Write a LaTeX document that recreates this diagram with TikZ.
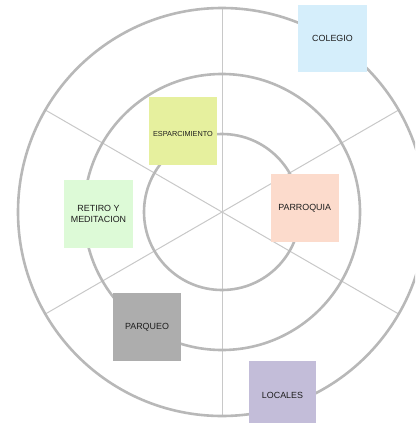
\documentclass[tikz,border=0pt]{standalone}
\usepackage{fontspec}
\setmainfont{Liberation Sans}
\usetikzlibrary{calc}
\definecolor{ringgray}{HTML}{B8B8B8}
\definecolor{spokegray}{HTML}{C8C8C8}
\definecolor{txt}{HTML}{1E1E1E}
\definecolor{cColegio}{HTML}{D5EEFB}
\definecolor{cEsparc}{HTML}{E6F09E}
\definecolor{cRetiro}{HTML}{DDFAD7}
\definecolor{cParroq}{HTML}{FCDBCC}
\definecolor{cParqueo}{HTML}{ADADAD}
\definecolor{cLocales}{HTML}{C3BDD9}
\tikzset{
  ring/.style={draw=ringgray, line width=2.6pt},
  spoke/.style={draw=spokegray, line width=1pt},
  zone/.style={rectangle, inner sep=0pt, minimum width=68pt, minimum height=68pt,
    text=txt, align=center, font=\fontsize{8.9}{10.7}\selectfont},
}
\begin{document}
\begin{tikzpicture}[x=1pt,y=-1pt]
\useasboundingbox (0,0) rectangle (415,423);
\clip (0,0) rectangle (415,423);
\coordinate (c) at (222,212);
% spokes
\coordinate (vt) at (222,8);
\coordinate (vb) at (222,416);
\coordinate (d1a) at ($(c)+(150:203)$);
\coordinate (d1b) at ($(c)+(-30:203)$);
\coordinate (d2a) at ($(c)+(30:203)$);
\coordinate (d2b) at ($(c)+(210:203)$);
\draw[spoke] (vt) -- (vb);
\draw[spoke] (d1a) -- (d1b);
\draw[spoke] (d2a) -- (d2b);
% rings
\draw[ring] (c) circle[radius=78];
\draw[ring] (c) circle[radius=138];
\draw[ring] (c) circle[radius=204];
% zones
\node[zone, fill=cColegio, minimum width=69pt, minimum height=67pt] (colegio) at (332.5,38.5) {COLEGIO};
\node[zone, fill=cEsparc, font=\fontsize{7.3}{9}\selectfont, text height=11.3pt, text depth=0pt] (esparc) at (183,131) {ESPARCIMIENTO};
\node[zone, fill=cRetiro, minimum width=69pt] (retiro) at (98.5,214) {RETIRO Y\\MEDITACION};
\node[zone, fill=cParroq, text height=4.4pt, text depth=0pt] (parroq) at (304.7,208) {PARROQUIA};
\node[zone, fill=cParqueo] (parqueo) at (147,327) {PARQUEO};
\node[zone, fill=cLocales, minimum width=67pt] (locales) at (282.5,395) {LOCALES};
\end{tikzpicture}
\end{document}
